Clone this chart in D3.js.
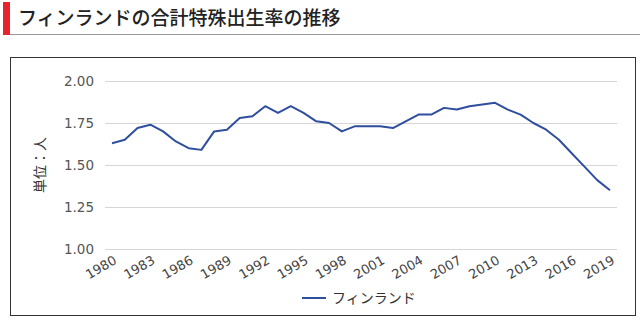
<!DOCTYPE html>
<html>
<head>
<meta charset="utf-8">
<script src="https://cdn.jsdelivr.net/npm/d3@7"></script>
<style>
  body { margin: 0; background: #fff; font-family: "Noto Sans CJK JP", "Noto Sans", sans-serif; }
</style>
</head>
<body>
<div id="chart"></div>
<script>
const years = d3.range(1980, 2020);
const finland = [1.63, 1.65, 1.72, 1.74, 1.70, 1.64, 1.60, 1.59, 1.70, 1.71,
                 1.78, 1.79, 1.85, 1.81, 1.85, 1.81, 1.76, 1.75, 1.70, 1.73,
                 1.73, 1.73, 1.72, 1.76, 1.80, 1.80, 1.84, 1.83, 1.85, 1.86,
                 1.87, 1.83, 1.80, 1.75, 1.71, 1.65, 1.57, 1.49, 1.41, 1.35];
const yTicks = [1.00, 1.25, 1.50, 1.75, 2.00];
const xTickYears = d3.range(1980, 2020, 3);
const title = "フィンランドの合計特殊出生率の推移";
const seriesName = "フィンランド";
const yLabel = "単位：人";

const W = 640, H = 320;
const svg = d3.select('#chart').append('svg')
    .attr('width', W).attr('height', H);

// header
svg.append('rect').attr('x', 3).attr('y', 2).attr('width', 7).attr('height', 33).attr('fill', '#e8232b');
svg.append('line').attr('x1', 10).attr('x2', 640).attr('y1', 34.5).attr('y2', 34.5)
    .attr('stroke', '#999').attr('stroke-width', 1);
svg.append('text').attr('x', 18).attr('y', 25)
    .attr('font-size', 19).attr('font-weight', 500).attr('fill', '#222')
    .text(title);

// chart box
svg.append('rect').attr('x', 10.5).attr('y', 57.5).attr('width', 625).attr('height', 258)
    .attr('fill', 'none').attr('stroke', '#333').attr('stroke-width', 1);

const x = d3.scaleLinear().domain([1980, 2019]).range([112, 610]);
const y = d3.scaleLinear().domain([1, 2]).range([249, 81]);

// gridlines
svg.append('g').selectAll('line').data(yTicks).enter().append('line')
    .attr('x1', 105).attr('x2', 617)
    .attr('y1', d => Math.round(y(d)) + 0.5).attr('y2', d => Math.round(y(d)) + 0.5)
    .attr('stroke', '#d6d6d6');

// y labels
svg.append('g').selectAll('text').data(yTicks).enter().append('text')
    .attr('x', 94).attr('y', d => y(d)).attr('dy', '0.36em')
    .attr('text-anchor', 'end').attr('fill', '#555')
    .attr('font-family', 'Verdana, "DejaVu Sans", sans-serif')
    .style('font-size', '13.5px')
    .text(d => d.toFixed(2));

// x labels (rotated)
svg.append('g').selectAll('text').data(xTickYears).enter().append('text')
    .attr('transform', d => `translate(${x(d) + 1},${255}) rotate(-30)`)
    .attr('text-anchor', 'end').attr('dy', '0.7em')
    .attr('font-family', 'Verdana, "DejaVu Sans", sans-serif')
    .attr('font-size', 13).attr('fill', '#444')
    .text(d => d);

// y axis title
svg.append('text')
    .attr('transform', `translate(40,165) rotate(-90)`)
    .attr('text-anchor', 'middle').attr('dy', '0.35em')
    .attr('font-size', 14).attr('fill', '#333')
    .text(yLabel);

// line
const line = d3.line().x((d, i) => x(years[i])).y(d => y(d));
svg.append('path').datum(finland)
    .attr('d', line)
    .attr('fill', 'none').attr('stroke', '#2f4e9e').attr('stroke-width', 2)
    .attr('stroke-linejoin', 'round');

// legend
svg.append('line').attr('x1', 302).attr('x2', 326).attr('y1', 298).attr('y2', 298)
    .attr('stroke', '#2f4e9e').attr('stroke-width', 2);
svg.append('text').attr('x', 332).attr('y', 298).attr('dy', '0.35em')
    .attr('font-size', 14).attr('fill', '#333').text(seriesName);
</script>
</body>
</html>
